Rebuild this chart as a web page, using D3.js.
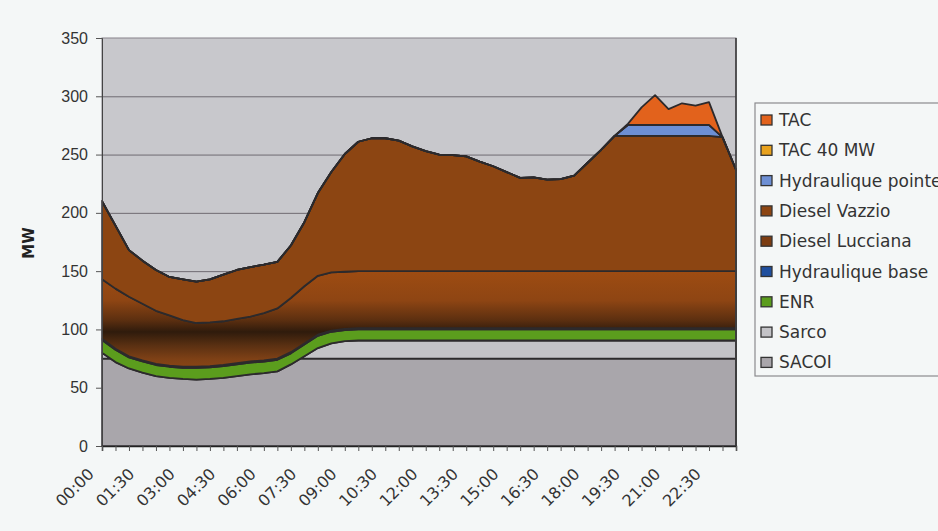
<!DOCTYPE html>
<html>
<head>
<meta charset="utf-8">
<script src="https://cdn.jsdelivr.net/npm/d3@7"></script>
<style>
  body { margin: 0; background: #f4f7f7; }
  svg { display: block; font-family: "DejaVu Sans", sans-serif; }
</style>
</head>
<body>
<svg id="chart" width="938" height="531"></svg>
<script>
// half-hour categories
const categories = [
  "00:00","00:30","01:00","01:30","02:00","02:30","03:00","03:30","04:00","04:30","05:00","05:30",
  "06:00","06:30","07:00","07:30","08:00","08:30","09:00","09:30","10:00","10:30","11:00","11:30",
  "12:00","12:30","13:00","13:30","14:00","14:30","15:00","15:30","16:00","16:30","17:00","17:30",
  "18:00","18:30","19:00","19:30","20:00","20:30","21:00","21:30","22:00","22:30","23:00","23:30"
];
const tickLabels = ["00:00","01:30","03:00","04:30","06:00","07:30","09:00","10:30","12:00",
  "13:30","15:00","16:30","18:00","19:30","21:00","22:30"];
const yTicks = [0, 50, 100, 150, 200, 250, 300, 350];

// MW per series, bottom of the stack first
const sacoi = [75,75,75,75,75,75,75,75,75,75,75,75,75,75,75,75,75,75,75,75,75,75,75,75,
  75,75,75,75,75,75,75,75,75,75,75,75,75,75,75,75,75,75,75,75,75,75,75,75];
const sarco = [5,-3,-8.5,-12,-15,-16.5,-17.5,-18,-17.5,-16.5,-15,-13.5,-12.5,-11,-5,2,9,13,15,15.5,
  15.5,15.5,15.5,15.5,15.5,15.5,15.5,15.5,15.5,15.5,15.5,15.5,15.5,15.5,15.5,15.5,15.5,15.5,15.5,15.5,
  15.5,15.5,15.5,15.5,15.5,15.5,15.5,15.5];
const enr = [11,10.5,9.5,9.5,9.5,9.5,9.5,10,10,10,10,10,10,10,9.5,10,10.5,10,9.5,9.5,
  9.5,9.5,9.5,9.5,9.5,9.5,9.5,9.5,9.5,9.5,9.5,9.5,9.5,9.5,9.5,9.5,9.5,9.5,9.5,9.5,
  9.5,9.5,9.5,9.5,9.5,9.5,9.5,9.5];
const hydroBase = [1,1,1,1,1,1,1,1,1,1,1,1,1,1,1,1,1,1,1,1,1,1,1,1,
  1,1,1,1,1,1,1,1,1,1,1,1,1,1,1,1,1,1,1,1,1,1,1,1];
const lucciana = [51,51.5,51,48.5,45.5,43,40,37.5,37.5,37.5,38,38.5,40.5,43,46.5,49,50.5,50,
  49,49,49,49,49,49,49,49,49,49,49,49,49,49,49,49,49,49,49,49,49,49,49,49,49,49,49,49,49,49];
const vazzio = [67,54,40,37,35,33,35,35.5,37,40,42,42.5,41.5,40,45,55,71,86,101,111,
  114,114,112,107,103,100,99.5,98.5,94,90,85,80,80.5,78.5,79,82,93,104,116,116,
  116,116,116,116,116,116,115,87];
const hydroPointe = [0,0,0,0,0,0,0,0,0,0,0,0,0,0,0,0,0,0,0,0,0,0,0,0,
  0,0,0,0,0,0,0,0,0,0,0,0,0,0,0,9.5,9.5,9.5,9.5,9.5,9.5,9.5,0,0];
const tac40 = [0,0,0,0,0,0,0,0,0,0,0,0,0,0,0,0,0,0,0,0,0,0,0,0,
  0,0,0,0,0,0,0,0,0,0,0,0,0,0,0,0,0,0,0,0,0,0,0,0];
const tac = [0,0,0,0,0,0,0,0,0,0,0,0,0,0,0,0,0,0,0,0,0,0,0,0,
  0,0,0,0,0,0,0,0,0,0,0,0,0,0,0,1,15,25.5,13.5,18.5,16.5,19.5,0,0];

const seriesNames = ["SACOI","Sarco","ENR","Hydraulique base","Diesel Lucciana",
  "Diesel Vazzio","Hydraulique pointe","TAC 40 MW","TAC"];
const seriesValues = [sacoi, sarco, enr, hydroBase, lucciana, vazzio, hydroPointe, tac40, tac];
const colors = {
  "SACOI": "#a9a6ab",
  "Sarco": "#c3c3c7",
  "ENR": "#5b9d1d",
  "Hydraulique base": "#1f4f9e",
  "Diesel Lucciana": "url(#luccGrad)",
  "Diesel Vazzio": "#8c4512",
  "Hydraulique pointe": "#6d8fd4",
  "TAC 40 MW": "#e8a21e",
  "TAC": "#e2621c"
};
const legendSwatch = Object.assign({}, colors, {"Diesel Lucciana": "#7c3d12"});

// build table for d3.stack
const table = categories.map((c, i) => {
  const row = { time: c };
  seriesNames.forEach((n, k) => row[n] = seriesValues[k][i]);
  return row;
});

const svg = d3.select('#chart');
const margin = { left: 102, right: 202, top: 38, bottom: 85 };
const width = 938 - margin.left - margin.right;
const height = 531 - margin.top - margin.bottom;

const defs = svg.append('defs');

const chart = svg.append('g')
  .attr('transform', `translate(${margin.left},${margin.top})`);

const xScale = d3.scalePoint().domain(categories).range([0, width]);
const yScale = d3.scaleLinear().domain([0, 350]).range([height, 0]);

// dark band in the Lucciana fill
const grad = defs.append('linearGradient')
  .attr('id', 'luccGrad')
  .attr('gradientUnits', 'userSpaceOnUse')
  .attr('x1', 0).attr('x2', 0)
  .attr('y1', yScale(150)).attr('y2', yScale(66));
[[0, '#9e4c12'], [0.3, '#8e4513'], [0.5, '#5c2f10'], [0.62, '#2f1b0c'],
 [0.76, '#5a3012'], [0.9, '#7f4116'], [1, '#8a4614']].forEach(s => {
  grad.append('stop').attr('offset', s[0]).attr('stop-color', s[1]);
});

// plot background
chart.append('rect')
  .attr('width', width).attr('height', height)
  .attr('fill', '#c8c8cc');

// gridlines
const yGridlines = d3.axisLeft(yScale)
  .tickValues(yTicks.slice(1, -1))
  .tickSize(-width)
  .tickFormat('');
chart.append('g')
  .classed('gridline', true)
  .call(yGridlines)
  .call(g => g.select('.domain').remove())
  .call(g => g.selectAll('line').attr('stroke', '#6f6b72').attr('stroke-width', 1));

// stacked areas
const stack = d3.stack().keys(seriesNames);
const layers = stack(table);

const area = d3.area()
  .x((d, i) => xScale(categories[i]))
  .y0(d => yScale(d[0]))
  .y1(d => yScale(d[1]));

chart.selectAll('.layer')
  .data(layers)
  .enter()
  .append('path')
  .classed('layer', true)
  .attr('d', area)
  .attr('fill', d => colors[d.key])
  .attr('stroke', '#2c2a2c')
  .attr('stroke-width', 1.8)
  .attr('stroke-linejoin', 'round');

// plot border
chart.append('rect')
  .attr('width', width).attr('height', height)
  .attr('fill', 'none')
  .attr('stroke', '#85828a')
  .attr('stroke-width', 1);
chart.append('line')
  .attr('x1', width).attr('x2', width).attr('y1', 0).attr('y2', height)
  .attr('stroke', '#333').attr('stroke-width', 1.5);

// y axis
const yAxis = d3.axisLeft(yScale).tickValues(yTicks).tickSize(6).tickPadding(8);
chart.append('g')
  .classed('y axis', true)
  .call(yAxis)
  .call(g => g.select('.domain').attr('stroke', '#444'))
  .call(g => g.selectAll('line').attr('stroke', '#555'))
  .call(g => g.selectAll('text').attr('fill', '#333').style('font-size', '16px'));

// x axis
const xAxis = d3.axisBottom(xScale).tickSize(5).tickFormat('');
const xg = chart.append('g')
  .classed('x axis', true)
  .attr('transform', `translate(0,${height})`)
  .call(xAxis);
xg.select('.domain').attr('stroke', '#222').attr('stroke-width', 1.5);
xg.selectAll('line').attr('stroke', '#555');

chart.selectAll('.x-label')
  .data(tickLabels)
  .enter()
  .append('text')
  .classed('x-label', true)
  .attr('transform', d => `translate(${xScale(d) - 7},${height + 29}) rotate(-45)`)
  .attr('text-anchor', 'end')
  .attr('fill', '#333')
  .style('font-size', '16px')
  .text(d => d);

// y axis title
svg.append('text')
  .attr('transform', 'translate(34,243) rotate(-90)')
  .attr('text-anchor', 'middle')
  .attr('fill', '#222')
  .style('font-size', '15px')
  .style('font-weight', 'bold')
  .text('MW');

// legend (top series first)
const legendItems = seriesNames.slice().reverse();
const legend = svg.append('g').attr('transform', 'translate(755,103)');
legend.append('rect')
  .attr('width', 200).attr('height', 273)
  .attr('fill', '#f4f7f7')
  .attr('stroke', '#8a8a8e')
  .attr('stroke-width', 1.2);
const item = legend.selectAll('.legend-item')
  .data(legendItems)
  .enter()
  .append('g')
  .classed('legend-item', true)
  .attr('transform', (d, i) => `translate(6,${17 + i * 30.3})`);
item.append('rect')
  .attr('x', 0).attr('y', -5)
  .attr('width', 11).attr('height', 10)
  .attr('fill', d => legendSwatch[d])
  .attr('stroke', '#333')
  .attr('stroke-width', 1.3);
item.append('text')
  .attr('x', 18).attr('y', 6)
  .attr('fill', '#333')
  .style('font-size', '17px')
  .text(d => d);
</script>
</body>
</html>
